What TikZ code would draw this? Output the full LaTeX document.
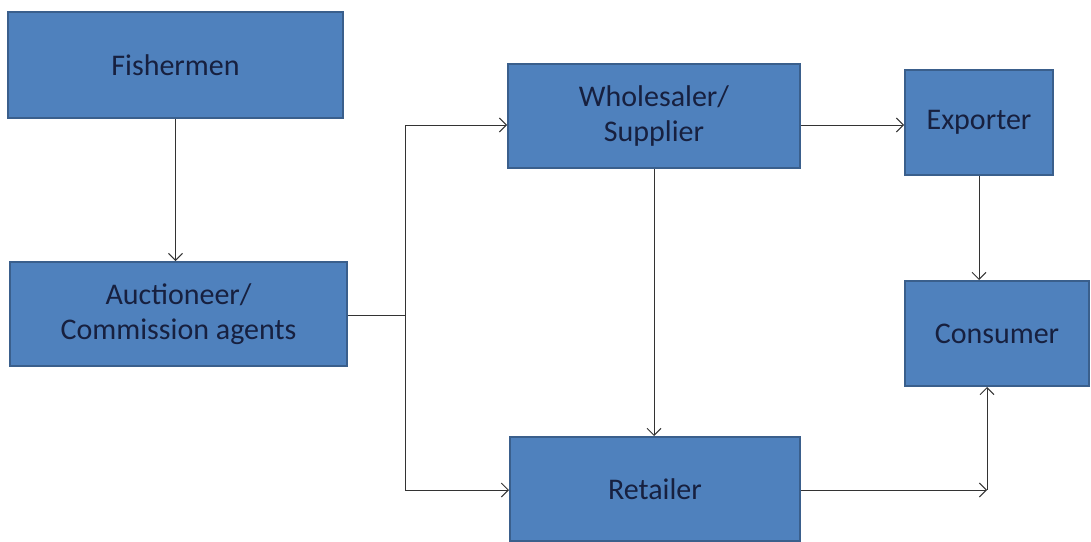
\documentclass[tikz,border=0pt]{standalone}
\usepackage{fontspec}
\setmainfont{Carlito}
\usetikzlibrary{positioning,arrows.meta}
\definecolor{boxblue}{HTML}{4F81BD}
\definecolor{boxedge}{HTML}{3A5F8C}
\definecolor{boxtext}{HTML}{17203F}

\begin{document}
\begin{tikzpicture}[x=1pt,y=-1pt,
  box/.style={draw=boxedge, fill=boxblue, line width=2pt, text=boxtext,
    align=center, inner sep=0pt, font=\fontsize{30}{35}\selectfont},
  arr/.style={-{Straight Barb[length=7pt,width=14pt]}, line width=1pt, draw=black!80},
  link/.style={line width=1pt, draw=black!80}]

\useasboundingbox (0,0) rectangle (1091,541);

% boxes
\node [box, minimum width=335pt, minimum height=106pt] (fish) at (175.5,65) {Fishermen};
\node [box, minimum width=337pt, minimum height=104pt] (auct) at (178.5,314) {Auctioneer/\\Commission agents};
\node [box, minimum width=292pt, minimum height=104pt] (whole) at (654,116) {Wholesaler/\\Supplier};
\node [box, minimum width=290pt, minimum height=104pt] (retail) at (655,489) {Retailer};
\node [box, minimum width=148pt, minimum height=105pt] (exp) at (979,122.5) {Exporter};
\node [box, minimum width=184pt, minimum height=105pt] (cons) at (997,333.5) {Consumer};

% turning points
\coordinate (split) at (405,315);
\coordinate (uptop) at (405,125);
\coordinate (downbot) at (405,490);
\coordinate (turn) at (987,490);

% connectors
\draw [arr] (fish.south) -- (fish.south |- auct.north);
\draw [link] (auct.east |- split) -- (split);
\draw [link] (uptop) -- (downbot);
\draw [arr] (uptop) -- (uptop -| whole.west);
\draw [arr] (downbot) -- (downbot -| retail.west);
\draw [arr] (uptop -| whole.east) -- (uptop -| exp.west);
\draw [arr] (whole.south) -- (whole.south |- retail.north);
\draw [arr] (exp.south) -- (exp.south |- cons.north);
\draw [arr] (turn -| retail.east) -- (turn);
\draw [arr] (turn) -- (turn |- cons.south);

\end{tikzpicture}
\end{document}
